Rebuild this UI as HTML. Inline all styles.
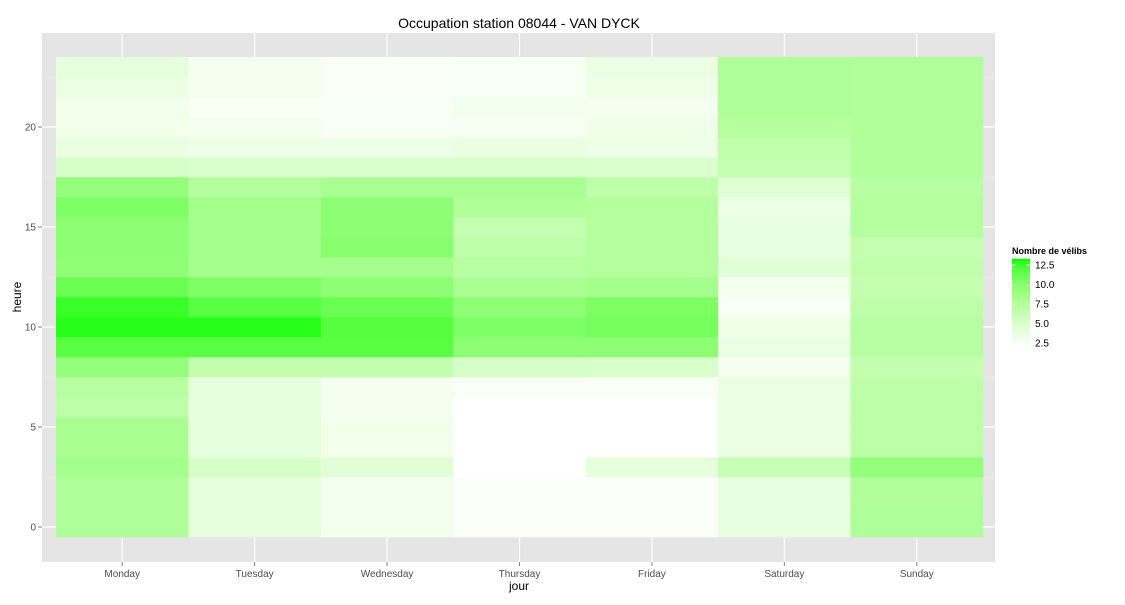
<!DOCTYPE html>
<html><head><meta charset="utf-8"><style>
body{margin:0;background:#fff;font-family:"Liberation Sans",sans-serif}
svg text{font-family:"Liberation Sans",sans-serif}
</style></head><body>
<svg id="chart" width="1125" height="600" viewBox="0 0 1125 600">
<text x="519" y="28" text-anchor="middle" font-size="14" fill="#000">Occupation station 08044 - VAN DYCK</text>
<rect x="42" y="33" width="953" height="529" fill="#e5e5e5"/>
<g id="grid"></g><g id="cells"></g><g id="axes"></g><g id="legend"></g>
<text x="519" y="590" text-anchor="middle" font-size="12">jour</text>
<text x="21" y="297" text-anchor="middle" font-size="12" transform="rotate(-90 21 297)">heure</text>
</svg>
<script>
const days=["Monday","Tuesday","Wednesday","Thursday","Friday","Saturday","Sunday"];
const yTicks=[0,5,10,15,20];
const legendTicks=[2.5,5.0,7.5,10.0,12.5];
const monday=[7.75,7.75,7.75,8.4,8.1,8.1,6.9,7.2,9.25,11.8,12.9,12.6,11.2,9.5,9.7,9.7,10.3,9.25,5.2,3.6,3.15,3.15,3.6,3.96];
const tuesday=[3.96,3.96,3.96,5.2,3.96,3.96,3.96,3.96,6.4,11.8,12.9,11.8,10.3,8.4,8.4,8.4,8.4,7.4,4.9,3.4,2.9,2.6,2.9,2.9];
const wednesday=[3.0,3.0,3.0,4.3,3.15,3.15,2.9,2.9,6.4,11.8,11.9,11.2,9.6,8.4,9.9,9.6,9.6,8.1,4.9,3.4,2.6,2.6,2.5,2.5];
const thursday=[2.35,2.35,2.35,2,2,2,2,2.5,5.2,9.6,10.3,9.5,8.1,7.2,6.8,6.4,7.75,8.1,4.9,3.6,2.7,3.0,2.6,2.6];
const friday=[2.35,2.35,2.35,3.96,2,2,2,2.5,4.9,9.6,10.7,10.4,8.3,7.4,7.4,7.4,7.4,6.8,4.8,3.4,3.3,2.9,3.3,3.6];
const saturday=[3.7,3.7,3.7,6.1,3.6,3.6,3.6,3.6,2.9,3.6,3.3,2.6,3.0,4.3,3.7,3.7,3.4,4.5,6.4,6.6,7.4,7.75,7.75,7.75];
const sunday=[7.75,7.75,7.6,9.25,6.9,6.9,6.9,6.8,6.4,7.2,7.2,6.8,6.4,6.6,6.4,7.4,7.4,7.2,7.6,7.6,7.6,7.6,7.6,7.6];
const series=[monday,tuesday,wednesday,thursday,friday,saturday,sunday];

const NS="http://www.w3.org/2000/svg";
function mk(tag,attrs,parent){const e=document.createElementNS(NS,tag);for(const k in attrs)e.setAttribute(k,attrs[k]);parent.appendChild(e);return e;}
const X0=56,X1=983,Y0=537,Y1=57;
const bw=(X1-X0)/days.length;
const xScale=i=>X0+bw*(i+0.5);
const yScale=h=>Y0-(h+0.5)*(Y0-Y1)/24;
const rowH=(Y0-Y1)/24;
const vmin=2,vmax=13.2;
function lab2rgb(L,a,b){let fy=(L+16)/116,fx=fy+a/500,fz=fy-b/200;
 const f=t=>t>0.206893?t*t*t:(t-16/116)/7.787;
 let X=0.95047*f(fx),Y=f(fy),Z=1.08883*f(fz);
 let r=3.2406*X-1.5372*Y-0.4986*Z,g=-0.9689*X+1.8758*Y+0.0415*Z,bb=0.0557*X-0.2040*Y+1.0570*Z;
 const gm=c=>{c=c>0.0031308?1.055*Math.pow(c,1/2.4)-0.055:12.92*c;return Math.round(Math.max(0,Math.min(1,c))*255);};
 return `rgb(${gm(r)},${gm(g)},${gm(bb)})`;}
function color(v){let t=Math.max(0,Math.min(1,(v-vmin)/(vmax-vmin)));return lab2rgb(100+(87.73-100)*t,-86.18*t,83.18*t);}

const grid=document.getElementById('grid');
for(let h=-2.5;h<=25;h+=5){const y=Y0-(h+0.5)*rowH;if(y>33&&y<562){const l=mk('line',{x1:42,x2:995,y1:y,y2:y,stroke:'#f2f2f2','stroke-width':0.6},grid);

}}
yTicks.forEach(t=>{const l=mk('line',{x1:42,x2:995,y1:yScale(t),y2:yScale(t),stroke:'#fff','stroke-width':1.2},grid);

});
days.forEach((d,i)=>{const l=mk('line',{x1:xScale(i),x2:xScale(i),y1:33,y2:562,stroke:'#fff','stroke-width':1.2},grid);

});

const cells=document.getElementById('cells');
series.forEach((vals,i)=>{vals.forEach((v,h)=>{const r=mk('rect',{x:xScale(i)-bw/2,y:yScale(h)-rowH/2,width:bw+0.3,height:rowH+0.3,fill:color(v)},cells);

});});

const axes=document.getElementById('axes');
yTicks.forEach(t=>{const y=yScale(t);
const tk=mk('line',{x1:38,x2:42,y1:y,y2:y,stroke:'#7f7f7f'},axes);


const tx=mk('text',{x:36,y:y+3.5,'text-anchor':'end','font-size':10,fill:'#4d4d4d'},axes);tx.textContent=t;

});
days.forEach((d,i)=>{const x=xScale(i);
const tk=mk('line',{x1:x,x2:x,y1:562,y2:566,stroke:'#7f7f7f'},axes);


const tx=mk('text',{x:x,y:577,'text-anchor':'middle','font-size':10,fill:'#4d4d4d'},axes);tx.textContent=d;

});

const lg=document.getElementById('legend');


const lt=mk('text',{x:1012,y:254,'font-size':9,'font-weight':'bold'},lg);lt.textContent='Nombre de vélibs';


const ly=v=>343-(v-2.5)*7.8;
for(let v=vmin;v<vmax;v+=0.1){const r=mk('rect',{x:1012,y:ly(v+0.1),width:18,height:0.1*7.8+0.3,fill:color(v+0.05)},lg);

}
legendTicks.forEach(t=>{const y=ly(t);
['1012','1026.4'].forEach(x0=>{const l=mk('line',{x1:+x0,x2:+x0+3.6,y1:y,y2:y,stroke:'#fff','stroke-width':0.8},lg);

});
const tx=mk('text',{x:1035,y:y+3.5,'font-size':10,fill:'#000'},lg);tx.textContent=t.toFixed(1);

});
</script>
</body></html>
